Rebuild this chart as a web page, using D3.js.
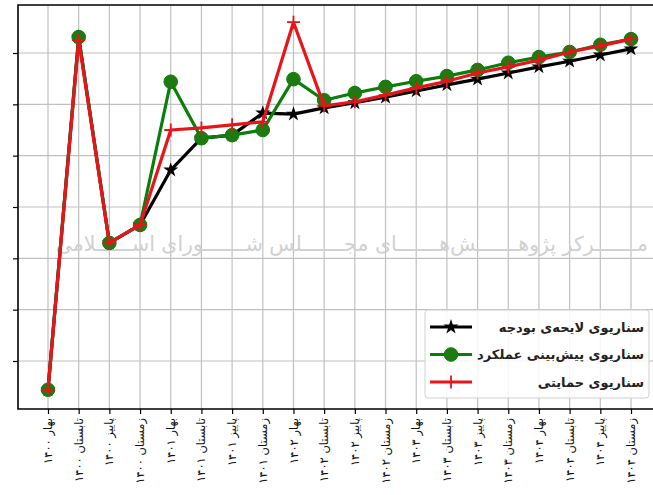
<!DOCTYPE html>
<html><head><meta charset="utf-8">
<script src="https://cdn.jsdelivr.net/npm/d3@7"></script>
<style>body{margin:0;background:#fff;} svg{display:block;}</style>
</head><body>
<svg id="c" width="653" height="495"></svg>
<script>
const categories = ["بهار ۱۴۰۰","تابستان ۱۴۰۰","پاییز ۱۴۰۰","زمستان ۱۴۰۰",
  "بهار ۱۴۰۱","تابستان ۱۴۰۱","پاییز ۱۴۰۱","زمستان ۱۴۰۱",
  "بهار ۱۴۰۲","تابستان ۱۴۰۲","پاییز ۱۴۰۲","زمستان ۱۴۰۲",
  "بهار ۱۴۰۳","تابستان ۱۴۰۳","پاییز ۱۴۰۳","زمستان ۱۴۰۳",
  "بهار ۱۴۰۴","تابستان ۱۴۰۴","پاییز ۱۴۰۴","زمستان ۱۴۰۴"];
const budgetBill = [0.44,7.31,3.30,3.65,4.72,5.34,5.40,5.83,5.81,5.93,6.03,6.14,6.26,6.38,6.49,6.61,6.73,6.84,6.96,7.08];
const forecastPerformance = [0.44,7.31,3.30,3.65,6.44,5.34,5.40,5.50,6.49,6.08,6.22,6.34,6.45,6.55,6.67,6.81,6.92,7.02,7.16,7.27];
const supportive = [0.44,7.25,3.30,3.65,5.50,5.54,5.60,5.66,7.60,5.97,6.05,6.18,6.32,6.45,6.61,6.73,6.86,7.02,7.14,7.27];
const yTicks = [1,2,3,4,5,6,7];
const seriesNames = ["سناریوی لایحه‌ی بودجه","سناریوی پیش‌بینی عملکرد","سناریوی حمایتی"];
const watermark = "مـــــــرکز پژوهـــــــش‌هـــــــای مجـــــــلس شـــــــورای اســــــلامی";

const svg = d3.select("#c");
const L = 18, T = 5, B = 409, R = 660;
const x = d3.scalePoint().domain(categories).range([48, 631]);
const y = d3.scaleLinear().domain([0.065, 7.935]).range([B, T]);

// grid
const g = svg.append("g");
g.selectAll(".vg").data(categories).join("line")
  .attr("x1", d => x(d)).attr("x2", d => x(d)).attr("y1", T).attr("y2", B)
  .attr("stroke", "#c0c0c0").attr("stroke-width", 1.2);
g.selectAll(".hg").data(yTicks).join("line")
  .attr("x1", L).attr("x2", R).attr("y1", d => y(d)).attr("y2", d => y(d))
  .attr("stroke", "#c0c0c0").attr("stroke-width", 1.2);

// watermark
svg.append("text").attr("x", 648).attr("y", 251)
  .attr("text-anchor", "end")
  .attr("font-family", "DejaVu Sans").attr("font-size", 20.5)
  .attr("fill", "#d0d0d0").text(watermark);

// axes
const xAxis = d3.axisBottom(x).tickSize(5).tickFormat(() => "");
svg.append("g").attr("transform", `translate(0,${B})`).call(xAxis)
  .call(a => a.select(".domain").remove())
  .selectAll("line").attr("stroke", "#000").attr("stroke-width", 1.2);
const yAxis = d3.axisLeft(y).tickValues(yTicks).tickSize(5).tickFormat(() => "");
svg.append("g").attr("transform", `translate(${L},0)`).call(yAxis)
  .call(a => a.select(".domain").remove())
  .selectAll("line").attr("stroke", "#000").attr("stroke-width", 1.2);

// spines
svg.append("path").attr("d", `M${R},${T}H${L}V${B}H${R}`)
  .attr("fill", "none").attr("stroke", "#000").attr("stroke-width", 1.6);

// x labels
svg.append("g").selectAll("text").data(categories).join("text")
  .attr("transform", d => `translate(${x(d)},418) rotate(-90)`)
  .attr("text-anchor", "end").attr("dy", "0.35em")
  .attr("font-family", "DejaVu Sans").attr("font-size", 11.5)
  .attr("fill", "#111").text(d => d);

// lines
const line = d3.line().x((d, i) => x(categories[i])).y(d => y(d));
const series = [
  {vals: budgetBill, color: "#000000", marker: "star"},
  {vals: forecastPerformance, color: "#0a7d0a", marker: "circle"},
  {vals: supportive, color: "#e8141c", marker: "plus"}
];
function drawMarker(sel, s, cx, cy) {
  if (s.marker === "star") {
    sel.append("path").attr("d", d3.symbol(d3.symbolStar, 70)())
      .attr("transform", `translate(${cx},${cy})`).attr("fill", s.color);
  } else if (s.marker === "circle") {
    sel.append("circle").attr("cx", cx).attr("cy", cy).attr("r", 6.8)
      .attr("fill", "#1f7a10").attr("stroke", "#0a7d0a").attr("stroke-width", 1);
  } else {
    sel.append("path").attr("d", `M${cx-6.5},${cy}H${cx+6.5}M${cx},${cy-6.5}V${cy+6.5}`)
      .attr("stroke", s.color).attr("stroke-width", 1.8);
  }
}
series.forEach(s => {
  const gg = svg.append("g");
  gg.append("path").attr("d", line(s.vals)).attr("fill", "none")
    .attr("stroke", s.color).attr("stroke-width", 3.2).attr("stroke-linejoin", "round");
  s.vals.forEach((v, i) => drawMarker(gg, s, x(categories[i]), y(v)));
});

// legend
const lg = svg.append("g");
lg.append("rect").attr("x", 425).attr("y", 310).attr("width", 224).attr("height", 88)
  .attr("rx", 3).attr("fill", "#fff").attr("fill-opacity", 0.85)
  .attr("stroke", "#d0d0d0").attr("stroke-width", 1);
series.forEach((s, i) => {
  const yy = 327 + i * 27.5;
  lg.append("line").attr("x1", 430).attr("x2", 472).attr("y1", yy).attr("y2", yy)
    .attr("stroke", s.color).attr("stroke-width", 3.2);
  drawMarker(lg, s, 451, yy);
  lg.append("text").attr("x", 644).attr("y", yy).attr("dy", "0.35em")
    .attr("text-anchor", "end")
    .attr("font-family", "DejaVu Sans").attr("font-size", 13).attr("font-weight", "bold")
    .attr("fill", "#222").text(seriesNames[i]);
});
</script>
</body></html>
